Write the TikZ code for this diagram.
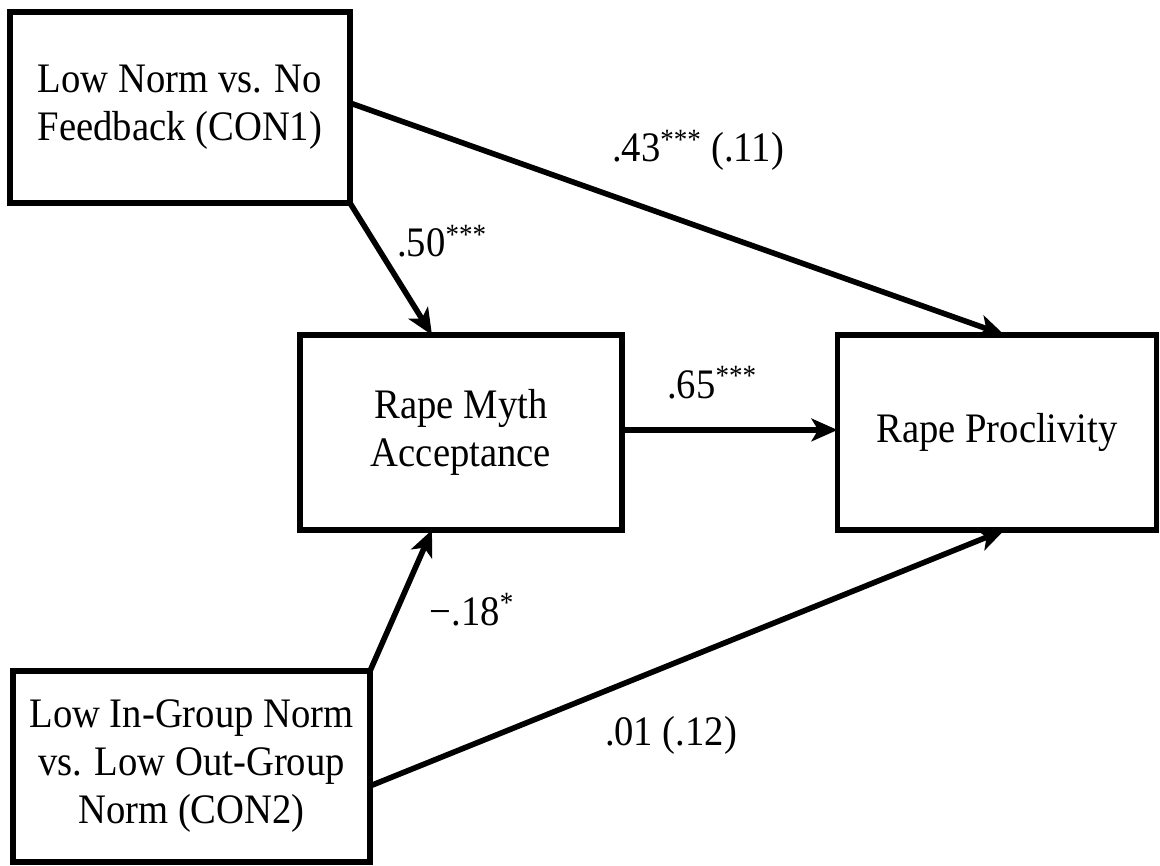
\documentclass[tikz,border=0pt]{standalone}
\usepackage{fontspec}
\setmainfont{Liberation Serif}[FakeStretch=0.92]
\usetikzlibrary{arrows.meta,calc}
\begin{document}
\begin{tikzpicture}[x=0.75pt,y=-0.75pt,
  box/.style={draw,line width=4.2pt,inner sep=0pt,outer sep=0pt,align=center,font=\fontsize{31.5}{36}\selectfont},
  conn/.style={line width=4.2pt,-{Stealth[length=19.5pt,width=17pt,inset=5pt]}},
  lbl/.style={anchor=base,inner sep=0pt,font=\fontsize{31.5}{36}\selectfont}]
\useasboundingbox[fill=white] (0,0) rectangle (1160,866);

\node[box,minimum width=255pt,minimum height=143.25pt] (con1) at (180,107.5) {Low Norm vs. No\\Feedback (CON1)};
\node[box,minimum width=241.5pt,minimum height=146.25pt] (rma) at (461,432.5) {Rape Myth\\Acceptance};
\node[box,minimum width=239.25pt,minimum height=146.25pt] (rp) at (997,432.5) {Rape Proclivity};
\node[box,minimum width=267.75pt,minimum height=143.25pt] (con2) at (191.5,766.5) {Low In-Group Norm\\vs. Low Out-Group\\Norm (CON2)};

\draw[conn] (con1.south east) -- ([xshift=-21.75pt]rma.north);
\draw[conn] ([yshift=3.4pt]con1.east) -- ([xshift=5.6pt]rp.north);
\draw[conn] ([yshift=1.9pt]rma.east) -- ([yshift=1.9pt]rp.west);
\draw[conn] (con2.north east) -- ([xshift=-21.75pt]rma.south);
\draw[conn] ([yshift=-14.6pt]con2.east) -- ([xshift=5.6pt]rp.south);

\node[lbl] (l1) at (698,162) {.43\textsuperscript{***} (.11)};
\node[lbl] (l2) at (442,257) {.50\textsuperscript{***}};
\node[lbl] (l3) at (712,398) {.65\textsuperscript{***}};
\node[lbl] (l4) at (472,625) {−.18\textsuperscript{*}};
\node[lbl] (l5) at (671,745) {.01 (.12)};
\end{tikzpicture}
\end{document}
